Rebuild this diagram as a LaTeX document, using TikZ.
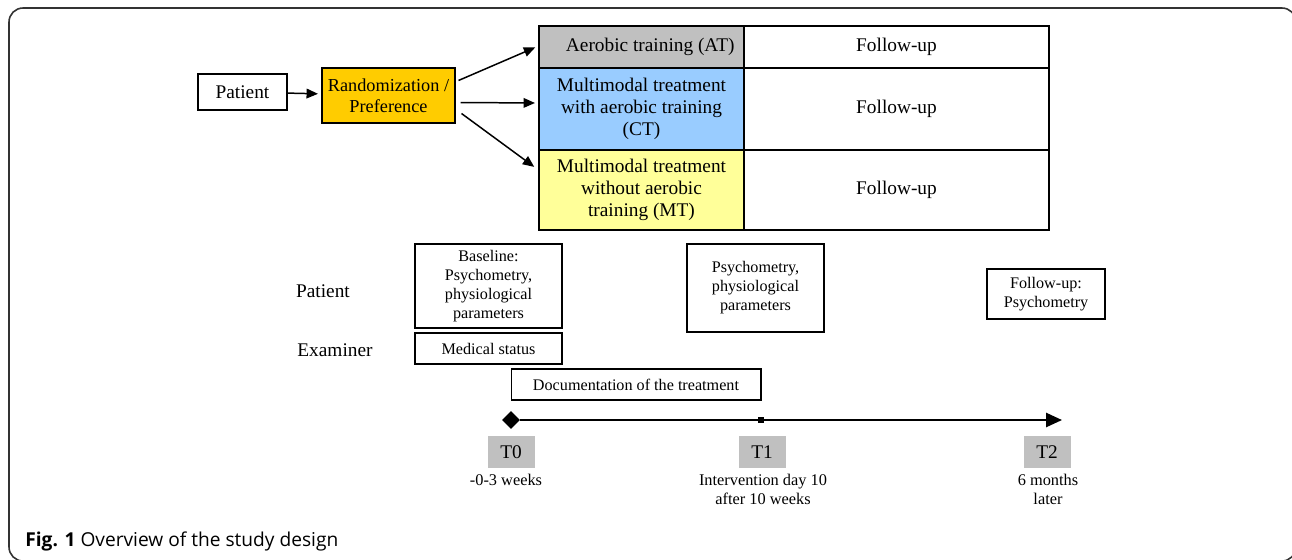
\documentclass[tikz,border=0pt]{standalone}
\usepackage{fontspec}
\setmainfont{Liberation Serif}
\newfontfamily\capfont{Open Sans}
\usetikzlibrary{arrows.meta,shapes.geometric}
\definecolor{randorange}{HTML}{FFCC00}
\definecolor{atgrey}{HTML}{C0C0C0}
\definecolor{ctblue}{HTML}{99CCFF}
\definecolor{mtyellow}{HTML}{FFFF99}
\definecolor{framegrey}{HTML}{333333}
\begin{document}
\begin{tikzpicture}[x=0.02cm,y=-0.02cm,
  box/.style={draw,line width=0.6pt,inner sep=0pt,align=center,font=\fontsize{11}{12.5}\selectfont},
  smallbox/.style={draw,line width=0.6pt,inner sep=0pt,align=center,font=\fontsize{9.2}{10.8}\selectfont},
  tbox/.style={fill=atgrey,inner sep=0pt,minimum width=0.94cm,minimum height=0.64cm,font=\fontsize{11}{12.5}\selectfont},
  tlabel/.style={inner sep=0pt,align=center,font=\fontsize{9.3}{10.8}\selectfont},
  arr/.style={line width=0.85pt,-{Triangle[length=6.5pt,width=5.5pt]}}]
\useasboundingbox (0,0) rectangle (1292,559);
\draw[framegrey,line width=0.9pt,rounded corners=8] (9,8) rectangle (1296,561);
\node[box,minimum width=1.78cm,minimum height=0.72cm] (pat) at (242.5,92) {Patient};
\node[box,fill=randorange,minimum width=2.66cm,minimum height=1.1cm,font=\fontsize{10.4}{12}\selectfont] (rand) at (388.5,95.5) {Randomization /\\Preference};
\node[box,fill=atgrey,minimum width=4.1cm,minimum height=0.84cm] (at) at (641.5,47) {\hspace{0.35cm}Aerobic training (AT)};
\node[box,minimum width=6.1cm,minimum height=0.84cm] (atf) at (896.5,47) {Follow-up};
\node[box,fill=ctblue,minimum width=4.1cm,minimum height=1.64cm] (ct) at (641.5,109) {Multimodal treatment\\with aerobic training\\(CT)};
\node[box,minimum width=6.1cm,minimum height=1.64cm] (ctf) at (896.5,109) {Follow-up};
\node[box,fill=mtyellow,minimum width=4.1cm,minimum height=1.6cm] (mt) at (641.5,190) {Multimodal treatment\\without aerobic\\training (MT)};
\node[box,minimum width=6.1cm,minimum height=1.6cm] (mtf) at (896.5,190) {Follow-up};
\draw[arr,shorten >=2pt] (pat) -- (rand);
\draw[arr,shorten >=2pt] ([shift={(3,13)}]rand.north east) -- ([shift={(0,-1)}]at.west);
\draw[arr,shorten >=2pt] ([shift={(5,7)}]rand.east) -- ([shift={(0,-6)}]ct.west);
\draw[arr,shorten >=3pt] ([shift={(6,18)}]rand.east) -- ([shift={(0,-20)}]mt.west);
\node[inner sep=0pt,font=\fontsize{11}{12.5}\selectfont] (lpat) at (323,291) {Patient};
\node[inner sep=0pt,font=\fontsize{11}{12.5}\selectfont] (lexam) at (335,350) {Examiner};
\node[smallbox,minimum width=2.94cm,minimum height=1.68cm] (base) at (488.5,286) {Baseline:\\Psychometry,\\physiological\\parameters};
\node[smallbox,minimum width=2.94cm,minimum height=0.62cm] (med) at (488.5,348.5) {Medical status};
\node[smallbox,minimum width=5cm,minimum height=0.62cm] (doc) at (636,384.5) {Documentation of the treatment};
\node[smallbox,minimum width=2.74cm,minimum height=1.76cm] (psy) at (755.5,288) {Psychometry,\\physiological\\parameters};
\node[smallbox,minimum width=2.36cm,minimum height=1cm] (fup) at (1046,294) {Follow-up:\\Psychometry};
\node[diamond,fill,inner sep=0pt,minimum size=0.36cm] (t0m) at (511,420) {};
\node[fill,inner sep=0pt,minimum size=0.13cm] (t1m) at (761,420) {};
\coordinate (tend) at (1062,420);
\draw[line width=1.1pt,-{Triangle[length=9pt,width=8pt]}] (t0m) -- (tend);
\node[tbox] (t0) at (511,452) {T0};
\node[tbox] (t1) at (762,452) {T1};
\node[tbox] (t2) at (1047,452) {T2};
\node[tlabel] (t0l) at (506,480) {-0-3 weeks};
\node[tlabel] (t1l) at (763,489) {Intervention day 10\\after 10 weeks};
\node[tlabel] (t2l) at (1048,489) {6 months\\later};
\node[anchor=base west,inner sep=0pt,font=\capfont\fontsize{10.9}{12}\selectfont] (cap) at (25,546) {\textbf{Fig. 1} Overview of the study design};
\end{tikzpicture}
\end{document}
